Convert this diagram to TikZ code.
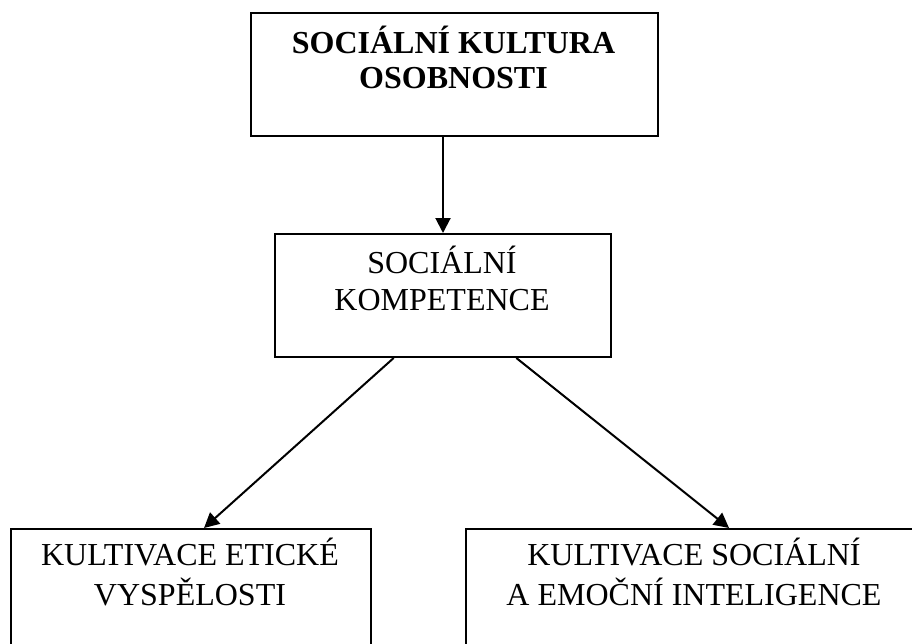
\documentclass[tikz,border=0pt]{standalone}
\usepackage{fontspec}
\setmainfont{Liberation Serif}
\usetikzlibrary{calc,arrows.meta}

\tikzset{
  box/.style={draw, line width=2pt, rectangle, inner sep=0pt, anchor=north west},
  txt/.style={anchor=base, inner sep=0pt, font=\fontsize{32}{36}\selectfont},
  boldtxt/.style={txt, font=\fontsize{32}{36}\selectfont\bfseries},
  arrow/.style={line width=2pt, -{Triangle[length=15pt,width=15pt]}}
}

\begin{document}
\begin{tikzpicture}[x=1pt,y=-1pt]
  \clip (0,0) rectangle (912,643);
  \fill[white] (0,0) rectangle (912,643);

  % boxes
  \node[box, minimum width=407pt, minimum height=123pt] (top) at (250,12) {};
  \node[box, minimum width=336pt, minimum height=123pt] (mid) at (274,233) {};
  \node[box, minimum width=360pt, minimum height=160pt] (bl) at (10,528) {};
  \node[box, minimum width=458pt, minimum height=160pt] (br) at (465,528) {};

  % labels
  \node[boldtxt] (t1) at (453.5,53) {SOCIÁLNÍ KULTURA};
  \node[boldtxt] (t2) at (453.5,88) {OSOBNOSTI};
  \node[txt] (m1) at (442,273) {SOCIÁLNÍ};
  \node[txt] (m2) at (442,310) {KOMPETENCE};
  \node[txt] (l1) at (190,565) {KULTIVACE ETICKÉ};
  \node[txt] (l2) at (190,605) {VYSPĚLOSTI};
  \node[txt] (r1) at (694,565) {KULTIVACE SOCIÁLNÍ};
  \node[txt] (r2) at (694,605) {A EMOČNÍ INTELIGENCE};

  % connectors
  \draw[arrow] (top.south -| mid.north) -- (mid.north);
  \draw[arrow] ($(mid.south west)!0.354!(mid.south east)$) -- ($(bl.north west)!0.536!(bl.north east)$);
  \draw[arrow] ($(mid.south west)!0.717!(mid.south east)$) -- ($(br.north west)!0.574!(br.north east)$);
\end{tikzpicture}
\end{document}
